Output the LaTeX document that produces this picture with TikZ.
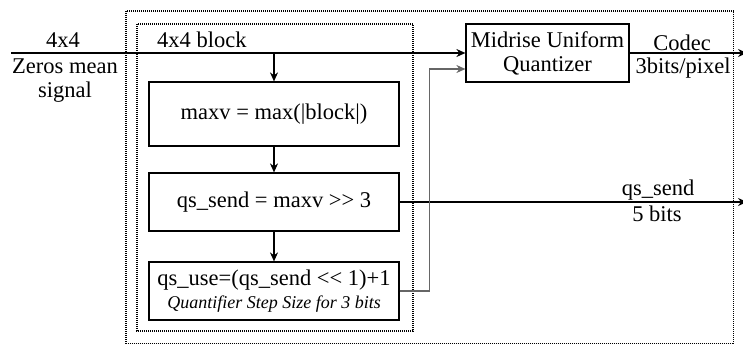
\documentclass[tikz,border=0pt]{standalone}
\usepackage{fontspec}
\setmainfont{Liberation Serif}
\usetikzlibrary{arrows.meta}

\begin{document}
\begin{tikzpicture}[
    x=1pt, y=-1pt,
    font=\fontsize{22.5}{24}\selectfont,
    every node/.style = {inner sep=0pt},
    blockbox/.style = {draw, line width=1.2pt, align=center, minimum width=250pt, minimum height=58pt},
    frame/.style = {line width=1.2pt, dash pattern=on 1pt off 1pt},
    flow/.style = {line width=1.3pt, -{Stealth[length=9pt,width=8pt]}},
    feed/.style = {flow, draw=black!60}
    ]
    \useasboundingbox (0,0) rectangle (743,345);

    % dotted frames: encoder and block processing
    \draw[frame] (126,11) rectangle (733.5,343.5);
    \draw[frame] (137,24) rectangle (413,331);

    % processing chain
    \node[blockbox, minimum height=64pt] (maxv) at (274,114) {maxv = max(|block|)};
    \node[blockbox] (qsend) at (274,202) {qs\_send = maxv >{}> 3};
    \node[blockbox] (quse) at (274,291) {qs\_use=(qs\_send <{}< 1)+1\\[-1pt]
      {\itshape\fontsize{18}{20}\selectfont Quantifier Step Size for 3 bits}};
    \node[blockbox, minimum width=163pt] (quant) at (547.5,53) {Midrise Uniform\\Quantizer};

    % free ends
    \coordinate (in) at (11,53);
    \coordinate (codec) at (747,53);
    \coordinate (side) at (747,202);

    % labels
    \node[anchor=base] (insize) at (63,48) {4x4};
    \node[anchor=base] (inzero) at (65,73) {Zeros mean};
    \node[anchor=base] (insig) at (65,97) {signal};
    \node[anchor=base west] (blk) at (157,48) {4x4 block};
    \node[anchor=base] (cod) at (682,50) {Codec};
    \node[anchor=base] (bpp) at (683,74) {3bits/pixel};
    \node[anchor=base] (qsname) at (658,195) {qs\_send};
    \node[anchor=base] (qsbits) at (657,221) {5 bits};

    % connectors
    \draw[flow] (in) -- (quant.west);
    \draw[flow] (maxv.north |- in) -- (maxv.north);
    \draw[flow] (maxv) -- (qsend);
    \draw[flow] (qsend) -- (quse);
    \draw[flow] (quant.east) -- (codec);
    \draw[flow] (qsend.east) -- (side);
    \draw[feed] (quse.east) -- ++(30,0) |- ([yshift=-16pt]quant.west);
\end{tikzpicture}
\end{document}
